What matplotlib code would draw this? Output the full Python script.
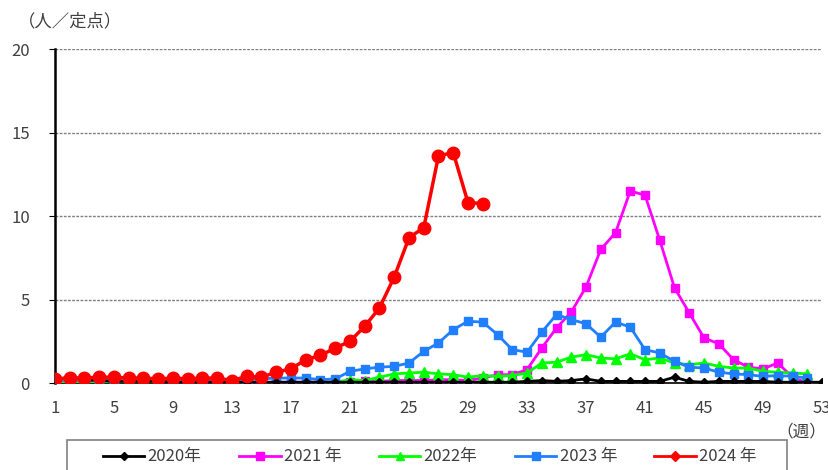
import numpy as np
import matplotlib.pyplot as plt
from matplotlib.lines import Line2D
from matplotlib.patches import Rectangle

plt.rcParams['font.family'] = ['Noto Sans CJK JP', 'DejaVu Sans']

weeks_2020 = list(range(1, 54))
weeks_2021 = list(range(1, 53))
weeks_2024 = list(range(1, 31))

y2020 = [0.15, 0.4, 0.2, 0.15, 0.1, 0.1, 0.1, 0.1, 0.05, 0.05,
         0.05, 0.05, 0.05, 0.05, 0.05, 0.05, 0.05, 0.05, 0.05, 0.05,
         0.05, 0.05, 0.05, 0.05, 0.05, 0.05, 0.05, 0.05, 0.05, 0.05,
         0.05, 0.05, 0.1, 0.15, 0.1, 0.15, 0.25, 0.1, 0.1, 0.1,
         0.1, 0.1, 0.35, 0.1, 0.05, 0.1, 0.1, 0.1, 0.1, 0.05,
         0.05, 0.05, 0.05]
y2021 = [0.05, 0.1, 0.05, 0.05, 0.05, 0.05, 0.05, 0.05, 0.05, 0.05,
         0.05, 0.05, 0.05, 0.05, 0.05, 0.05, 0.05, 0.05, 0.05, 0.05,
         0.05, 0.1, 0.1, 0.15, 0.15, 0.15, 0.2, 0.2, 0.15, 0.3,
         0.5, 0.5, 0.8, 2.1, 3.3, 4.25, 5.75, 8.0, 9.0, 11.5,
         11.25, 8.55, 5.7, 4.2, 2.7, 2.35, 1.4, 0.95, 0.85, 1.2,
         0.35, 0.0]
y2022 = [0.0, 0.0, 0.0, 0.0, 0.0, 0.0, 0.0, 0.0, 0.0, 0.0,
         0.0, 0.0, 0.0, 0.0, 0.0, 0.0, 0.0, 0.0, 0.05, 0.05,
         0.2, 0.15, 0.35, 0.55, 0.6, 0.65, 0.55, 0.5, 0.35, 0.45,
         0.4, 0.45, 0.6, 1.2, 1.25, 1.55, 1.7, 1.5, 1.45, 1.75,
         1.4, 1.5, 1.2, 1.1, 1.2, 1.0, 0.9, 0.9, 0.7, 0.65,
         0.6, 0.55]
y2023 = [0.2, 0.2, 0.2, 0.15, 0.15, 0.15, 0.15, 0.15, 0.15, 0.15,
         0.15, 0.15, 0.15, 0.2, 0.25, 0.3, 0.3, 0.3, 0.2, 0.25,
         0.7, 0.85, 0.95, 1.0, 1.2, 1.9, 2.4, 3.2, 3.7, 3.65,
         2.9, 2.0, 1.85, 3.05, 4.1, 3.8, 3.55, 2.75, 3.65, 3.35,
         2.0, 1.8, 1.3, 0.95, 0.9, 0.65, 0.55, 0.5, 0.4, 0.45,
         0.4, 0.3]
y2024 = [0.25, 0.3, 0.3, 0.35, 0.35, 0.3, 0.3, 0.25, 0.3, 0.25,
         0.3, 0.3, 0.15, 0.4, 0.35, 0.65, 0.85, 1.4, 1.65, 2.1,
         2.5, 3.4, 4.5, 6.35, 8.7, 9.3, 13.6, 13.8, 10.8, 10.75]

labels = ['2020年', '2021 年', '2022年', '2023 年', '2024 年']

fig = plt.figure(figsize=(8.29, 4.70), dpi=100)
ax = fig.add_axes([0.0663, 0.185, 0.9253, 0.7107])

ax.plot(weeks_2021, y2021, color='#ff00ff', marker='s', markersize=6, lw=2, zorder=3)
ax.plot(weeks_2021, y2022, color='#00ff00', marker='^', markersize=7, lw=2, zorder=3)
ax.plot(weeks_2021, y2023, color='#1f7fff', marker='s', markersize=6, lw=2, zorder=3)
ax.plot(weeks_2020, y2020, color='black', marker='D', markersize=4, lw=2, zorder=4)
ax.plot(weeks_2024, y2024, color='#ff0000', marker='o', markersize=9, lw=2.5, zorder=5)

ax.set_xlim(1, 53)
ax.set_ylim(0, 20)
ax.set_xticks(range(1, 54, 4))
ax.set_yticks([0, 5, 10, 15, 20])
ax.yaxis.grid(True, ls=(0, (2, 1)), color='#808080', lw=1)
ax.set_axisbelow(True)
for s in ['top', 'right']:
    ax.spines[s].set_visible(False)
ax.spines['left'].set_linewidth(1.8)
ax.spines['bottom'].set_linewidth(1.2)
ax.tick_params(axis='both', labelsize=12, colors='#404040', length=4)
ax.tick_params(axis='x', length=0, pad=12)
ax.tick_params(axis='y', color='black', pad=14)

fig.text(0.021, 0.955, '（人／定点）', fontsize=12.5, color='#404040', va='center')
fig.text(0.966, 0.082, '（週）', fontsize=12, color='#404040', va='center', ha='center')

# legend frame runs off the bottom edge like in the source
fig.patches.append(Rectangle((0.0808, -0.05), 0.8685, 0.114, transform=fig.transFigure,
                             fill=False, edgecolor='#808080', lw=1.2))

handles = [
    Line2D([], [], color='black', marker='D', markersize=4, lw=2),
    Line2D([], [], color='#ff00ff', marker='s', markersize=6, lw=2),
    Line2D([], [], color='#00ff00', marker='^', markersize=6, lw=2),
    Line2D([], [], color='#1f7fff', marker='s', markersize=6, lw=2),
    Line2D([], [], color='#ff0000', marker='D', markersize=5, lw=2),
]
leg = fig.legend(handles, labels, loc='center left', bbox_to_anchor=(0.124, 0.028, 0.789, 0.0),
                 mode='expand', ncol=5, frameon=False,
                 fontsize=12, handlelength=2.5, handletextpad=0.2,
                 borderpad=0, borderaxespad=0, labelcolor='#404040')

fig.savefig('out.png', dpi=100)
